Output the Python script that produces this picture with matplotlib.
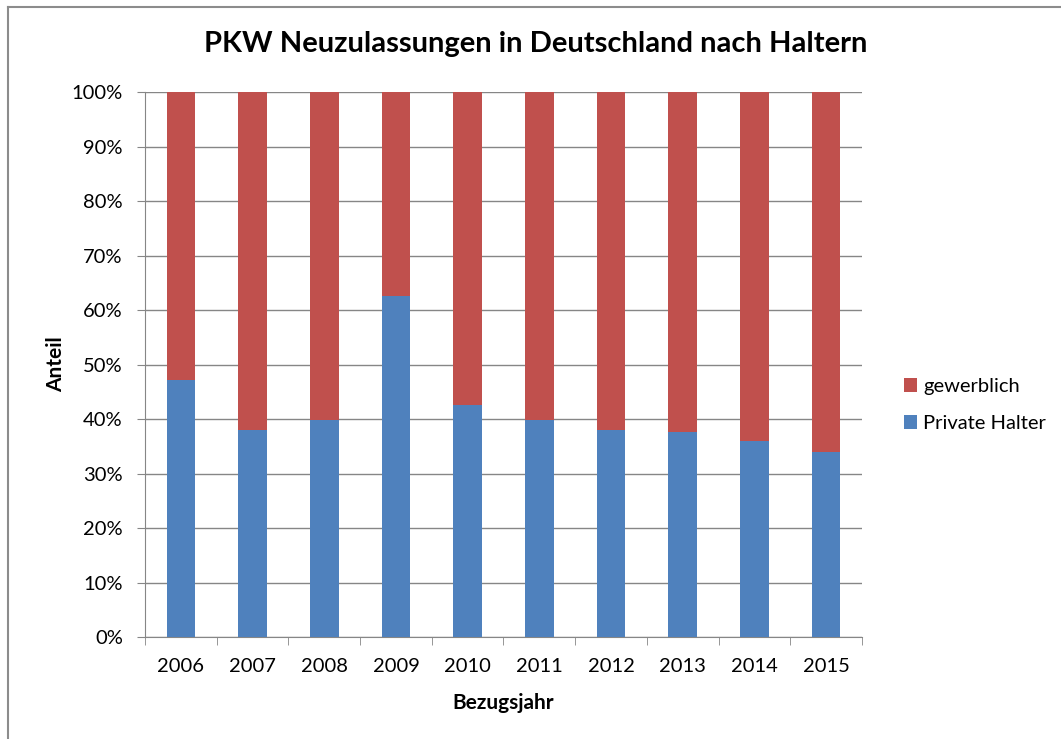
import matplotlib.pyplot as plt
from matplotlib.lines import Line2D
from matplotlib.ticker import PercentFormatter

plt.rcParams['font.family'] = ['Lato', 'DejaVu Sans']

jahre = ['2006', '2007', '2008', '2009', '2010', '2011', '2012', '2013', '2014', '2015']
private = [47.2, 37.9, 39.8, 62.6, 42.6, 39.8, 37.9, 37.7, 36.0, 34.0]
gewerblich = [100 - p for p in private]

blau = '#4F81BD'
rot = '#C0504D'

fig = plt.figure(figsize=(10.61, 7.39), dpi=100)
ax = fig.add_axes([0.1367, 0.138, 0.6757, 0.7375])

x = range(len(jahre))
ax.bar(x, private, width=0.4, color=blau, label='Private Halter', zorder=3)
ax.bar(x, gewerblich, width=0.4, bottom=private, color=rot, label='gewerblich', zorder=3)

ax.set_xlim(-0.5, len(jahre) - 0.5)
ax.set_ylim(0, 100)
ax.set_yticks(range(0, 101, 10))
ax.yaxis.set_major_formatter(PercentFormatter(decimals=0))
ax.set_xticks(x)
ax.set_xticklabels(jahre)
ax.set_xticks([i - 0.5 for i in range(len(jahre) + 1)], minor=True)
ax.tick_params(axis='x', which='major', length=0, pad=15, labelsize=14.5)
ax.tick_params(axis='x', which='minor', length=6, color='#868686', direction='out')
ax.tick_params(axis='y', length=6, color='#868686', direction='out', labelsize=14.5, pad=10)

ax.grid(axis='y', color='#868686', linewidth=1, zorder=0)
for s in ['top', 'right']:
    ax.spines[s].set_visible(False)
for s in ['left', 'bottom']:
    ax.spines[s].set_color('#868686')

ax.set_xlabel('Bezugsjahr', fontsize=15, fontweight='bold', labelpad=13)
ax.set_ylabel('Anteil', fontsize=15, fontweight='bold', labelpad=4)

handles, labels = ax.get_legend_handles_labels()
fig.legend(handles[::-1], labels[::-1], loc='center left', bbox_to_anchor=(0.835, 0.452),
           frameon=False, fontsize=14.5, handlelength=0.65, handleheight=0.65,
           handletextpad=0.3, labelspacing=1.0)

fig.text(0.505, 0.94, 'PKW Neuzulassungen in Deutschland nach Haltern',
         ha='center', va='center', fontsize=21, fontweight='bold')

# Rahmen nur oben und links
fig.add_artist(Line2D([8 / 1061, 1], [1 - 7 / 739, 1 - 7 / 739], color='#8c8c8c', linewidth=1.5))
fig.add_artist(Line2D([8 / 1061, 8 / 1061], [0, 1 - 7 / 739], color='#8c8c8c', linewidth=1.5))

fig.savefig('out.png', dpi=100)
